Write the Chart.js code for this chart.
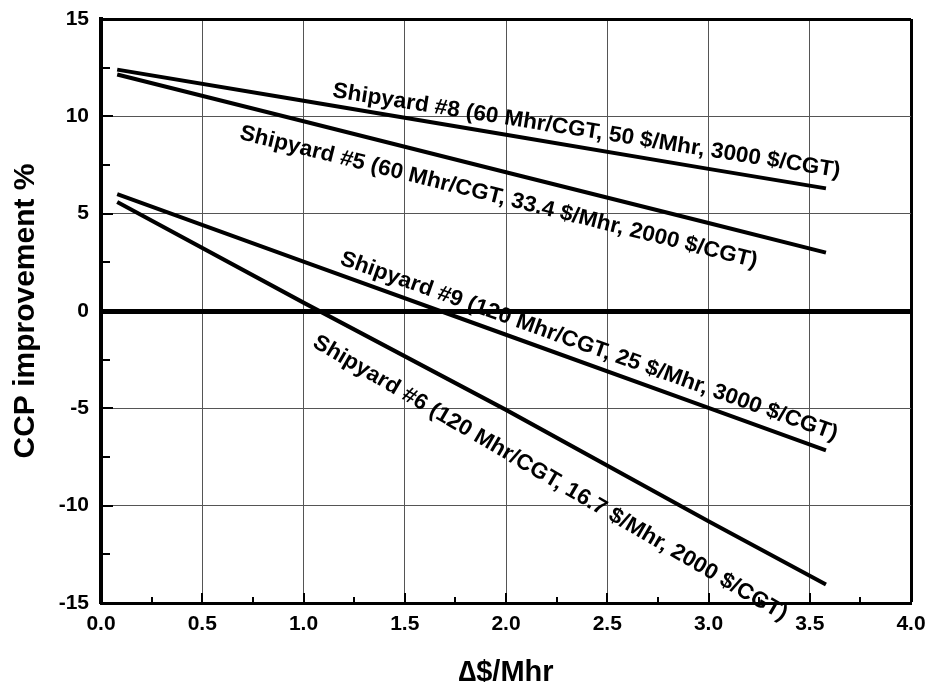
<!DOCTYPE html>
<html>
<head>
<meta charset="utf-8">
<script src="https://cdn.jsdelivr.net/npm/chart.js@4.4.1/dist/chart.umd.min.js"></script>
<style>
html,body{margin:0;padding:0;background:#fff;}
#wrap{width:928px;height:682px;}
</style>
</head>
<body>
<div id="wrap"><canvas id="c" width="928" height="682"></canvas></div>
<script>
// ---- data ----
const xValues = [0.08, 1.0, 2.0, 3.0, 3.58];
const shipyard8 = [12.4, 10.8, 9.05, 7.3, 6.3];
const shipyard5 = [12.15, 9.75, 7.13, 4.52, 3.0];
const shipyard9 = [6.0, 2.54, -1.22, -4.98, -7.16];
const shipyard6 = [5.6, 0.43, -5.08, -10.8, -14.05];

const seriesLabels = [
  "Shipyard #8 (60 Mhr/CGT, 50 $/Mhr, 3000 $/CGT)",
  "Shipyard #5 (60 Mhr/CGT, 33.4 $/Mhr, 2000 $/CGT)",
  "Shipyard #9 (120 Mhr/CGT, 25 $/Mhr, 3000 $/CGT)",
  "Shipyard #6 (120 Mhr/CGT, 16.7 $/Mhr, 2000 $/CGT)"
];
const xTicks = [0, 0.5, 1.0, 1.5, 2.0, 2.5, 3.0, 3.5, 4.0];
const yTicks = [-15, -10, -5, 0, 5, 10, 15];
const xTitle = "\u2206$/Mhr";
const yTitle = "CCP improvement %";

// label placement (data coordinates of baseline start) and rotation
const labelPlacement = [
  {x: 1.14, y: 11.0, angle: 9.0},
  {x: 0.68, y: 8.85, angle: 14.0},
  {x: 1.175, y: 2.42, angle: 19.6},
  {x: 1.04, y: -1.8, angle: 30.3}
];

const FONT = '"Liberation Sans", Arial, Helvetica, sans-serif';

function pts(ys){ return xValues.map((x,i)=>({x:x, y:ys[i]})); }

const lineLabels = {
  id: 'lineLabels',
  afterDatasetsDraw(chart){
    const {ctx, scales:{x, y}} = chart;
    ctx.save();
    ctx.fillStyle = '#000';
    ctx.font = 'bold 22px ' + FONT;
    ctx.textAlign = 'left';
    ctx.textBaseline = 'alphabetic';
    labelPlacement.forEach((p, i) => {
      ctx.save();
      ctx.translate(x.getPixelForValue(p.x), y.getPixelForValue(p.y));
      ctx.rotate(p.angle * Math.PI / 180);
      ctx.scale(1.03, 1);
      ctx.fillText(seriesLabels[i], 0, 0);
      ctx.restore();
    });
    ctx.restore();
  }
};

const minorTicks = {
  id: 'minorTicks',
  afterDatasetsDraw(chart){
    const {ctx, chartArea:a, scales:{x, y}} = chart;
    ctx.save();
    ctx.strokeStyle = '#000';
    ctx.lineWidth = 2;
    ctx.beginPath();
    for (let v = 0.25; v < 4; v += 0.25) {
      const px = Math.round(x.getPixelForValue(v));
      const major = Math.abs(v*2 - Math.round(v*2)) < 1e-6;
      ctx.moveTo(px, a.bottom);
      ctx.lineTo(px, a.bottom - (major ? 10 : 6));
    }
    for (let v = -12.5; v < 15; v += 2.5) {
      const py = Math.round(y.getPixelForValue(v));
      const major = Math.abs(v/5 - Math.round(v/5)) < 1e-6;
      ctx.moveTo(a.left, py);
      ctx.lineTo(a.left + (major ? 12 : 9), py);
    }
    ctx.stroke();
    ctx.restore();
  }
};

const ds = (data) => ({
  data: data, borderColor: '#000', borderWidth: 4, pointRadius: 0,
  tension: 0, fill: false
});

function zeroPad(s){ s.paddingTop = 0; s.paddingBottom = 0; s.paddingLeft = 0; s.paddingRight = 0; }

new Chart(document.getElementById('c'), {
  type: 'line',
  data: {
    datasets: [ds(pts(shipyard8)), ds(pts(shipyard5)), ds(pts(shipyard9)), ds(pts(shipyard6))]
  },
  options: {
    responsive: false,
    animation: false,
    layout: {padding: {left: 0, top: 19, right: 17, bottom: 0}},
    plugins: {legend: {display: false}, tooltip: {enabled: false}},
    scales: {
      x: {
        type: 'linear', min: 0, max: 4,
        afterFit(s){ s.height = 79; zeroPad(s); },
        afterBuildTicks(s){ s.ticks = xTicks.map(v => ({value: v})); },
        ticks: {
          color: '#000', padding: 9,
          font: {family: FONT, size: 21, weight: 'bold'},
          callback: v => Number(v).toFixed(1)
        },
        grid: {
          drawTicks: false,
          color: ctx => (ctx.tick && ctx.tick.value === 4) ? '#000' : '#555',
          lineWidth: ctx => (ctx.tick && ctx.tick.value === 4) ? 3 : 1
        },
        border: {display: true, color: '#000', width: 3},
        title: {
          display: true, text: xTitle, color: '#000',
          font: {family: FONT, size: 29, weight: 'bold'},
          padding: {top: 0, bottom: -8}
        }
      },
      y: {
        type: 'linear', min: -15, max: 15,
        afterFit(s){ s.width = 101; zeroPad(s); },
        afterBuildTicks(s){ s.ticks = yTicks.map(v => ({value: v})); },
        ticks: {
          color: '#000', padding: 12,
          font: {family: FONT, size: 21, weight: 'bold'}
        },
        grid: {
          drawTicks: false,
          color: ctx => (ctx.tick && (ctx.tick.value === 0 || ctx.tick.value === 15)) ? '#000' : '#555',
          lineWidth: ctx => {
            if (!ctx.tick) return 1;
            if (ctx.tick.value === 0) return 5;
            if (ctx.tick.value === 15) return 3;
            return 1;
          }
        },
        border: {display: true, color: '#000', width: 4},
        title: {
          display: true, text: yTitle, color: '#000',
          font: {family: FONT, size: 30, weight: 'bold'},
          padding: {top: 8, bottom: 0}
        }
      }
    }
  },
  plugins: [minorTicks, lineLabels]
});
</script>
</body>
</html>
